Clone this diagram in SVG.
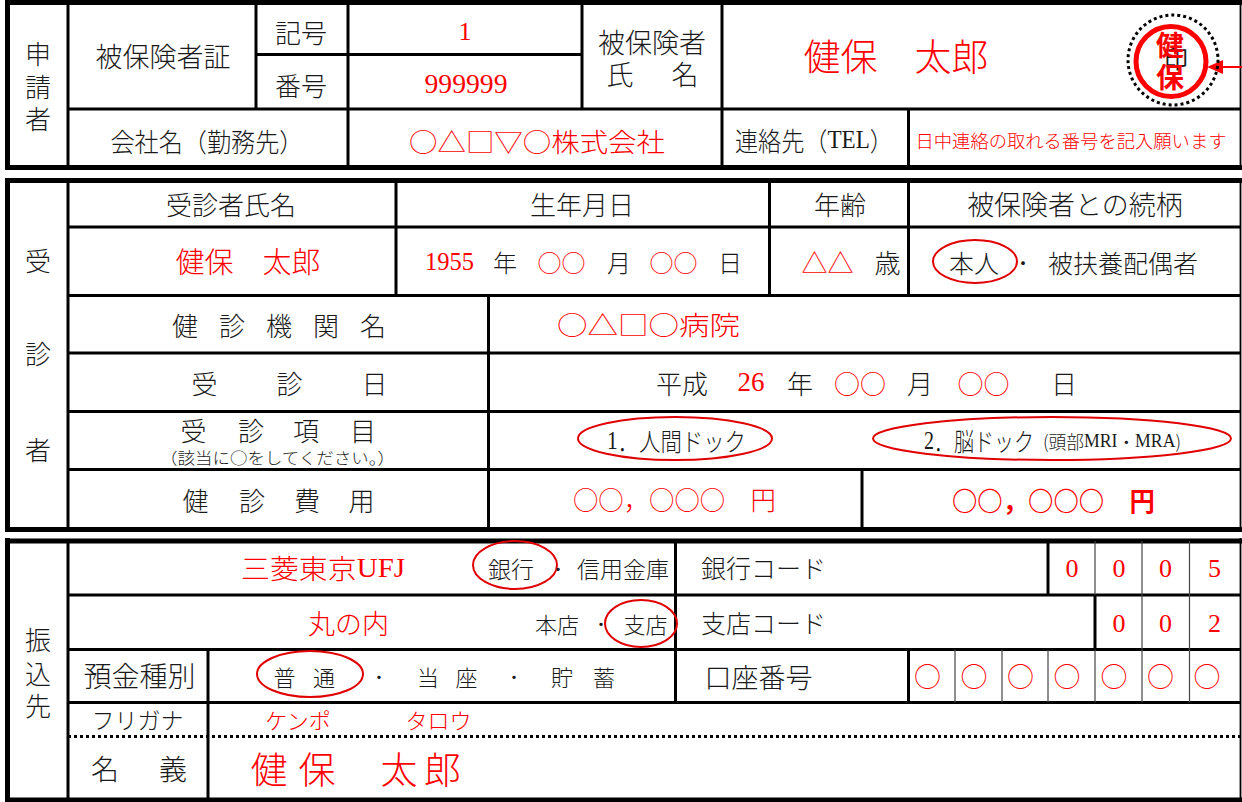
<svg xmlns="http://www.w3.org/2000/svg" width="1242" height="802" viewBox="0 0 1242 802" font-size="26">
<style>
.t{font-family:"Noto Sans CJK JP","Noto Sans CJK SC",sans-serif;fill:#1a1a1a;text-anchor:middle;dominant-baseline:central;font-weight:300}
.s{font-family:"Liberation Serif","Noto Sans CJK JP",serif;font-weight:400}
.r{fill:#ff0000}
.b{font-weight:700}
.thick{stroke:#000;stroke-width:5;fill:none}
.mid{stroke:#000;stroke-width:3;fill:none}
.thin{stroke:#444;stroke-width:1.2;fill:none}
.edge{stroke:#000;stroke-width:1.8;fill:none}
.ring{fill:none;stroke:#e00000;stroke-width:2}
</style>
<rect width="1242" height="802" fill="#fff"/>
<g id="connectors">
<line class="thick" x1="5" y1="2.5" x2="1242" y2="2.5"/>
<line class="thick" x1="7.5" y1="0" x2="7.5" y2="170"/>
<line class="thick" x1="5" y1="167.5" x2="1242" y2="167.5"/>
<line class="edge" x1="1240.5" y1="0" x2="1240.5" y2="170"/>
<line class="mid" x1="68" y1="2.5" x2="68" y2="167.5"/>
<line class="mid" x1="256" y1="2.5" x2="256" y2="109"/>
<line class="mid" x1="348" y1="2.5" x2="348" y2="167.5"/>
<line class="mid" x1="582" y1="2.5" x2="582" y2="109"/>
<line class="mid" x1="722" y1="2.5" x2="722" y2="167.5"/>
<line class="mid" x1="908.5" y1="109" x2="908.5" y2="167.5"/>
<line class="mid" x1="256" y1="54.5" x2="582" y2="54.5"/>
<line class="mid" x1="68" y1="109" x2="1240" y2="109"/>
<line class="thick" x1="5" y1="180.5" x2="1242" y2="180.5"/>
<line class="thick" x1="7.5" y1="178" x2="7.5" y2="532"/>
<line class="thick" x1="5" y1="529.5" x2="1242" y2="529.5"/>
<line class="edge" x1="1240.5" y1="178" x2="1240.5" y2="532"/>
<line class="mid" x1="68" y1="180" x2="68" y2="530"/>
<line class="mid" x1="68" y1="227" x2="1240" y2="227"/>
<line class="mid" x1="68" y1="295.5" x2="1240" y2="295.5"/>
<line class="mid" x1="68" y1="353" x2="1240" y2="353"/>
<line class="mid" x1="68" y1="411.5" x2="1240" y2="411.5"/>
<line class="mid" x1="68" y1="469.5" x2="1240" y2="469.5"/>
<line class="mid" x1="396" y1="180" x2="396" y2="295.5"/>
<line class="mid" x1="769.5" y1="180" x2="769.5" y2="295.5"/>
<line class="mid" x1="908.5" y1="180" x2="908.5" y2="295.5"/>
<line class="mid" x1="488.5" y1="295.5" x2="488.5" y2="529.5"/>
<line class="mid" x1="862" y1="469.5" x2="862" y2="529.5"/>
<line class="thick" x1="5" y1="541" x2="1242" y2="541"/>
<line class="thick" x1="7.5" y1="538" x2="7.5" y2="802"/>
<line class="thick" x1="5" y1="800" x2="1242" y2="800"/>
<line class="edge" x1="1240.5" y1="538" x2="1240.5" y2="802"/>
<line class="mid" x1="68" y1="541" x2="68" y2="800"/>
<line class="mid" x1="68" y1="595" x2="1240" y2="595"/>
<line class="mid" x1="68" y1="649.5" x2="1240" y2="649.5"/>
<line class="mid" x1="68" y1="702.5" x2="1240" y2="702.5"/>
<line x1="68" y1="736.5" x2="1240" y2="736.5" stroke="#000" stroke-width="3" stroke-dasharray="3 3"/>
<line class="mid" x1="208" y1="649.5" x2="208" y2="800"/>
<line class="mid" x1="675.5" y1="541" x2="675.5" y2="702.5"/>
<line class="mid" x1="1048" y1="541" x2="1048" y2="595"/>
<line class="mid" x1="1095" y1="595" x2="1095" y2="649.5"/>
<line class="mid" x1="908.5" y1="649.5" x2="908.5" y2="702.5"/>
<line class="thin" x1="1095" y1="541" x2="1095" y2="595"/>
<line class="thin" x1="1142" y1="541" x2="1142" y2="702.5"/>
<line class="thin" x1="1189.5" y1="541" x2="1189.5" y2="702.5"/>
<line class="thin" x1="955" y1="649.5" x2="955" y2="702.5"/>
<line class="thin" x1="1002" y1="649.5" x2="1002" y2="702.5"/>
<line class="thin" x1="1048" y1="649.5" x2="1048" y2="702.5"/>
<line class="thin" x1="1095" y1="649.5" x2="1095" y2="702.5"/>
<line x1="1242" y1="67" x2="1220" y2="67" stroke="#ff0000" stroke-width="2"/>
<polygon points="1207,67 1223,60 1223,74" fill="#ff0000"/>
</g>

<g id="applicant">
<text class="t" x="38" y="52">申</text>
<text class="t" x="38" y="85">請</text>
<text class="t" x="38" y="117">者</text>
<text class="t" x="163" y="55" font-size="27">被保険者証</text>
<text class="t" x="301" y="31.5">記号</text>
<text class="t" x="301" y="84">番号</text>
<text class="t s r" x="465" y="31.5" font-size="26">1</text>
<text class="t s r" x="466" y="84" font-size="27" textLength="83" lengthAdjust="spacingAndGlyphs">999999</text>
<text class="t" x="652" y="41" font-size="27">被保険者</text>
<text class="t" x="620" y="73" font-size="27">氏</text>
<text class="t" x="685" y="73" font-size="27">名</text>
<text class="t r" x="896" y="54.5" font-size="37">健保　太郎</text>
<text class="t" x="207" y="140" textLength="193" lengthAdjust="spacingAndGlyphs">会社名（勤務先）</text>
<text class="t r" x="537" y="140" textLength="256" lengthAdjust="spacingAndGlyphs">○△□▽○株式会社</text>
<text class="t" x="814" y="139" textLength="158" lengthAdjust="spacingAndGlyphs">連絡先（<tspan class="s">TEL</tspan>）</text>
<text class="t r" x="1071" y="139.5" font-size="18" textLength="311" lengthAdjust="spacingAndGlyphs">日中連絡の取れる番号を記入願います</text>
</g>

<g id="stamp">
<circle cx="1173" cy="60" r="45" fill="none" stroke="#000" stroke-width="3" stroke-dasharray="3 3"/>
<text class="t" x="1176" y="57" font-size="24" style="font-weight:400">印</text>
<circle cx="1171" cy="61.5" r="35" fill="none" stroke="#ff0000" stroke-width="5"/>
<text class="t r b" x="1170" y="44" font-size="28">健</text>
<text class="t r b" x="1170" y="76" font-size="28">保</text>
</g>

<g id="examinee">
<text class="t" x="38" y="259">受</text>
<text class="t" x="38" y="352">診</text>
<text class="t" x="38" y="448">者</text>
<text class="t" x="231" y="203.5">受診者氏名</text>
<text class="t" x="582" y="203.5">生年月日</text>
<text class="t" x="840" y="203.5">年齢</text>
<text class="t" x="1075" y="203.5" font-size="27">被保険者との続柄</text>
<text class="t r" x="248" y="260" font-size="29">健保　太郎</text>
<text class="t s r" x="449.5" y="261" font-size="26" textLength="49" lengthAdjust="spacingAndGlyphs">1955</text>
<text class="t" x="505" y="261" font-size="24">年</text>
<text class="t r" x="561.5" y="261" font-size="24">○○</text>
<text class="t" x="619" y="261" font-size="24">月</text>
<text class="t r" x="673.5" y="261" font-size="24">○○</text>
<text class="t" x="730" y="261" font-size="24">日</text>
<text class="t r" x="827.5" y="261" font-size="26">△△</text>
<text class="t" x="887.5" y="261" font-size="26">歳</text>
<ellipse class="ring" cx="975" cy="261.5" rx="42" ry="21.5"/>
<text class="t" x="974" y="262" font-size="25">本人</text>
<text class="t" x="1023" y="262" font-size="20">・</text>
<text class="t" x="1123" y="262" font-size="25">被扶養配偶者</text>

<text class="t"><tspan x="185" y="323.5">健</tspan><tspan x="232" y="323.5">診</tspan><tspan x="279" y="323.5">機</tspan><tspan x="326" y="323.5">関</tspan><tspan x="373" y="323.5">名</tspan></text>
<text class="t r" x="648.5" y="323.5" textLength="183" lengthAdjust="spacingAndGlyphs">○△□○病院</text>

<text class="t"><tspan x="204.5" y="381.5">受</tspan><tspan x="289.5" y="381.5">診</tspan><tspan x="374.5" y="381.5">日</tspan></text>
<text class="t" x="682" y="382">平成</text>
<text class="t s r" x="751" y="382" font-size="27">26</text>
<text class="t" x="800" y="382">年</text>
<text class="t r" x="860" y="382">○○</text>
<text class="t" x="920" y="382">月</text>
<text class="t r" x="983.5" y="382">○○</text>
<text class="t" x="1064" y="382">日</text>

<text class="t"><tspan x="193.5" y="429">受</tspan><tspan x="251" y="429">診</tspan><tspan x="306" y="429">項</tspan><tspan x="363" y="429">目</tspan></text>
<text class="t" x="277.5" y="457" font-size="16" textLength="235" lengthAdjust="spacingAndGlyphs">（該当に○をしてください。）</text>
<ellipse class="ring" cx="675" cy="438.5" rx="97" ry="21.5"/>
<text class="t" x="676.5" y="440" font-size="25" textLength="139" lengthAdjust="spacingAndGlyphs"><tspan class="s">1</tspan>．人間ドック</text>
<ellipse class="ring" cx="1052" cy="438.5" rx="179" ry="21.5"/>
<text class="t" x="979" y="440" font-size="25" textLength="110" lengthAdjust="spacingAndGlyphs"><tspan class="s">2</tspan>．脳ドック</text>
<text class="t" x="1112" y="441" font-size="18" textLength="138" lengthAdjust="spacingAndGlyphs">(頭部<tspan class="s">MRI</tspan>・<tspan class="s">MRA</tspan>)</text>

<text class="t"><tspan x="195.5" y="498.5">健</tspan><tspan x="252" y="498.5">診</tspan><tspan x="307" y="498.5">費</tspan><tspan x="361.5" y="498.5">用</tspan></text>
<text class="t r" x="674.5" y="498" textLength="203" lengthAdjust="spacingAndGlyphs">○○，○○○　円</text>
<text class="t r b" x="1053.5" y="499" textLength="203" lengthAdjust="spacingAndGlyphs">○○，○○○　円</text>
</g>

<g id="transfer">
<text class="t" x="38" y="638">振</text>
<text class="t" x="38" y="672">込</text>
<text class="t" x="38" y="704">先</text>
<text class="t r" x="323" y="567.5" font-size="27" textLength="164" lengthAdjust="spacingAndGlyphs">三菱東京<tspan class="s">UFJ</tspan></text>
<ellipse class="ring" cx="515" cy="565" rx="42" ry="24"/>
<text class="t" x="511" y="568" font-size="23">銀行</text>
<text class="t" x="558" y="568" font-size="18">・</text>
<text class="t" x="623" y="568" font-size="23">信用金庫</text>
<text class="t" x="763.5" y="567" font-size="25">銀行コード</text>
<text class="t s r" x="1072" y="568">0</text>
<text class="t s r" x="1119" y="568">0</text>
<text class="t s r" x="1165.5" y="568">0</text>
<text class="t s r" x="1214.5" y="568">5</text>

<text class="t r" x="348.5" y="622.5" font-size="27">丸の内</text>
<text class="t" x="557" y="623" font-size="22">本店</text>
<text class="t" x="601" y="623" font-size="18">・</text>
<ellipse class="ring" cx="641" cy="623.5" rx="36" ry="23.5"/>
<text class="t" x="645.5" y="623" font-size="22">支店</text>
<text class="t" x="763.5" y="622" font-size="25">支店コード</text>
<text class="t s r" x="1119" y="623">0</text>
<text class="t s r" x="1165.5" y="623">0</text>
<text class="t s r" x="1214.5" y="623">2</text>

<text class="t" x="139.5" y="675" font-size="28">預金種別</text>
<ellipse class="ring" cx="310" cy="674" rx="53" ry="23"/>
<text class="t" x="284.5" y="676" font-size="22">普</text>
<text class="t" x="324" y="676" font-size="22">通</text>
<text class="t" x="379" y="676" font-size="18">・</text>
<text class="t" x="428" y="676" font-size="22">当</text>
<text class="t" x="466.5" y="676" font-size="22">座</text>
<text class="t" x="514" y="676" font-size="18">・</text>
<text class="t" x="562" y="676" font-size="22">貯</text>
<text class="t" x="604" y="676" font-size="22">蓄</text>
<text class="t" x="758.5" y="676" font-size="27">口座番号</text>
<text class="t r" x="927.5" y="675" font-size="27">○</text>
<text class="t r" x="974" y="675" font-size="27">○</text>
<text class="t r" x="1020.5" y="675" font-size="27">○</text>
<text class="t r" x="1067" y="675" font-size="27">○</text>
<text class="t r" x="1114" y="675" font-size="27">○</text>
<text class="t r" x="1160.5" y="675" font-size="27">○</text>
<text class="t r" x="1207" y="675" font-size="27">○</text>

<text class="t" x="137.5" y="719" font-size="23">フリガナ</text>
<text class="t r" x="298" y="719" font-size="22">ケンポ</text>
<text class="t r" x="438.5" y="719" font-size="22">タロウ</text>

<text class="t" x="105" y="768" font-size="28">名</text>
<text class="t" x="173" y="768" font-size="28">義</text>
<text class="t r" x="269" y="768" font-size="37">健</text>
<text class="t r" x="317" y="768" font-size="37">保</text>
<text class="t r" x="399" y="768" font-size="37">太</text>
<text class="t r" x="442.5" y="768" font-size="37">郎</text>
</g>
</svg>
